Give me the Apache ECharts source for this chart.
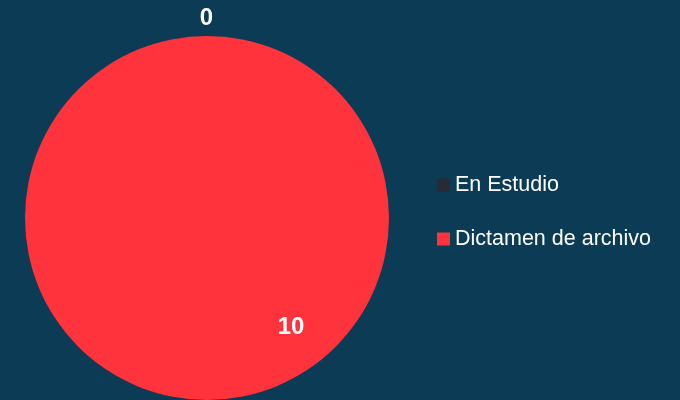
<!DOCTYPE html>
<html>
<head>
<meta charset="utf-8">
<script src="https://cdn.jsdelivr.net/npm/echarts@6/dist/echarts.min.js"></script>
<style>
  html, body { margin: 0; padding: 0; background: #0b3b55; }
  #chart { width: 680px; height: 400px; }
</style>
</head>
<body>
<div id="chart"></div>
<script>
// estados de los expedientes
const categorias = ['En Estudio', 'Dictamen de archivo'];
const valores = [0, 10];
const colores = ['#262b36', '#ff333c'];

const chart = echarts.init(document.getElementById('chart'));

const datos = categorias.map((nombre, i) => {
    const item = { name: nombre, value: valores[i], itemStyle: { color: colores[i] } };
    if (valores[i] === 0) {
        item.label = { position: 'outside', offset: [11, -10] };
    } else {
        item.label = { position: 'inside', offset: [84, 15] };
    }
    return item;
});

chart.setOption({
    backgroundColor: '#0b3b55',
    animation: false,
    legend: {
        orient: 'vertical',
        left: 432,
        top: 169,
        itemWidth: 13,
        itemHeight: 13,
        itemGap: 32,
        icon: 'rect',
        data: categorias,
        textStyle: {
            color: '#ffffff',
            fontSize: 21.5,
            fontFamily: 'Liberation Sans, Arial, sans-serif'
        }
    },
    series: [{
        type: 'pie',
        center: [207, 218],
        radius: 182,
        startAngle: 90,
        avoidLabelOverlap: false,
        label: {
            show: true,
            formatter: '{c}',
            color: '#ffffff',
            fontSize: 24,
            fontWeight: 'bold',
            fontFamily: 'Liberation Sans, Arial, sans-serif'
        },
        labelLine: { show: false, length: 8, length2: 0 },
        itemStyle: { borderWidth: 0 },
        emphasis: { disabled: true },
        data: datos
    }]
});
</script>
</body>
</html>
